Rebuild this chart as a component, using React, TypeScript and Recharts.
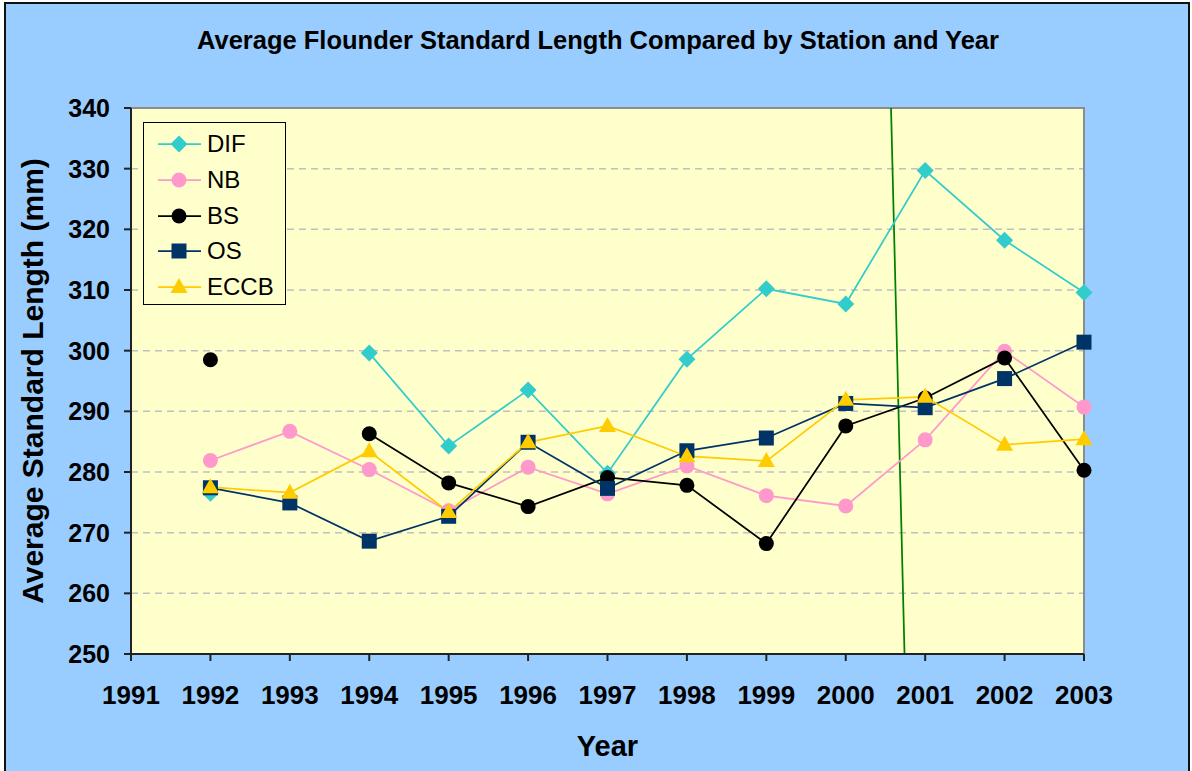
import React from 'react';
import {
  LineChart,
  Line,
  XAxis,
  YAxis,
  CartesianGrid,
  Legend,
  ReferenceLine,
  ReferenceArea,
  Label
} from 'recharts';

const years = [1992, 1993, 1994, 1995, 1996, 1997, 1998, 1999, 2000, 2001, 2002, 2003];
const difValues = [276.5, null, 299.6, 284.3, 293.5, 279.8, 298.6, 310.2, 307.7, 329.7, 318.2, 309.6];
const nbValues = [281.9, 286.7, 280.4, 273.6, 280.8, 276.4, 281.0, 276.1, 274.4, 285.3, 299.9, 290.7];
const bsValues = [298.5, null, 286.3, 278.2, 274.3, 279.1, 277.8, 268.2, 287.6, 292.2, 298.8, 280.3];
const osValues = [277.4, 274.9, 268.6, 272.7, 284.9, 277.3, 283.5, 285.6, 291.3, 290.6, 295.4, 301.4];
const eccbValues = [277.5, 276.6, 283.4, 273.4, 284.9, 287.6, 282.6, 281.8, 291.9, 292.4, 284.5, 285.4];

const xTicks = [1991, 1992, 1993, 1994, 1995, 1996, 1997, 1998, 1999, 2000, 2001, 2002, 2003];
const yTicks = [250, 260, 270, 280, 290, 300, 310, 320, 330, 340];

// hand-drawn green divider in the original, kept in data units
const dividerLine = [
  { x: 2000.57, y: 340 },
  { x: 2000.74, y: 250 }
];

type Shape = 'diamond' | 'circle' | 'square' | 'triangle';

const seriesList: { key: string; name: string; color: string; shape: Shape; values: (number | null)[] }[] = [
  { key: 'dif', name: 'DIF', color: '#33CCCC', shape: 'diamond', values: difValues },
  { key: 'nb', name: 'NB', color: '#FF99CC', shape: 'circle', values: nbValues },
  { key: 'bs', name: 'BS', color: '#000000', shape: 'circle', values: bsValues },
  { key: 'os', name: 'OS', color: '#003366', shape: 'square', values: osValues },
  { key: 'eccb', name: 'ECCB', color: '#FFCC00', shape: 'triangle', values: eccbValues }
];

const data = years.map((year, i) => {
  const row: Record<string, number | null> = { year };
  seriesList.forEach(s => {
    row[s.key] = s.values[i];
  });
  return row;
});

const FONT = 'Arial, "Liberation Sans", Helvetica, sans-serif';

const Marker = ({ cx, cy, shape, color }: { cx: number; cy: number; shape: Shape; color: string }) => {
  switch (shape) {
    case 'diamond':
      return <polygon points={`${cx},${cy - 8.5} ${cx + 8.5},${cy} ${cx},${cy + 8.5} ${cx - 8.5},${cy}`} fill={color} />;
    case 'circle':
      return <circle cx={cx} cy={cy} r={7.5} fill={color} />;
    case 'square':
      return <rect x={cx - 7.5} y={cy - 7.5} width={15} height={15} fill={color} />;
    case 'triangle':
      return <polygon points={`${cx},${cy - 9} ${cx + 8.5},${cy + 6} ${cx - 8.5},${cy + 6}`} fill={color} />;
    default:
      return null;
  }
};

const makeDot = (shape: Shape, color: string) => (props: any) => {
  const { cx, cy, index } = props;
  if (cx == null || cy == null || props.value == null) return <g key={`e-${index}`} />;
  return (
    <g key={`d-${index}`}>
      <Marker cx={cx} cy={cy} shape={shape} color={color} />
    </g>
  );
};

const LegendBox = () => (
  <div
    style={{
      width: 141,
      height: 181,
      border: '1px solid #000',
      background: '#FFFFCC',
      fontFamily: FONT,
      fontSize: 24,
      position: 'relative'
    }}
  >
    {seriesList.map((s, i) => (
      <div key={s.key} style={{ position: 'absolute', left: 0, top: 21 + i * 35.8 - 18, height: 36, width: 141 }}>
        <svg width={60} height={36} style={{ position: 'absolute', left: 0, top: 0 }}>
          <line x1={14} x2={57} y1={18} y2={18} stroke={s.color} strokeWidth={1.75} />
          <Marker cx={35} cy={18} shape={s.shape} color={s.color} />
        </svg>
        <span style={{ position: 'absolute', left: 63, top: 4, lineHeight: '28px' }}>{s.name}</span>
      </div>
    ))}
  </div>
);

const App: React.FC = () => {
  return (
    <div style={{ position: 'absolute', left: 0, top: 0, width: 1192, height: 771, overflow: 'hidden', background: '#fff' }}>
      <div
        style={{
          position: 'absolute',
          left: 4,
          top: 2,
          width: 1182,
          height: 800,
          border: '2px solid #111',
          background: '#99CCFF'
        }}
      />
      <div
        style={{
          position: 'absolute',
          left: 0,
          top: 28,
          width: 1196,
          textAlign: 'center',
          fontFamily: FONT,
          fontWeight: 'bold',
          fontSize: 25.5,
          lineHeight: '25px',
          color: '#000'
        }}
      >
        Average Flounder Standard Length Compared by Station and Year
      </div>
      <div style={{ position: 'absolute', left: 0, top: 0 }}>
        <LineChart
          width={1192}
          height={771}
          data={data}
          margin={{ top: 108, right: 108, bottom: 17, left: 21 }}
          style={{ fontFamily: FONT }}
        >
          <CartesianGrid
            vertical={false}
            stroke="#C0C0C0"
            strokeDasharray="7 5"
            strokeWidth={1.5}
            fill="#FFFFCC"
            fillOpacity={1}
          />
          <ReferenceArea x1={1991} x2={2003} y1={250} y2={340} fill="none" fillOpacity={0} stroke="#8C8C8C" strokeWidth={2} />
          <XAxis
            dataKey="year"
            type="number"
            domain={[1991, 2003]}
            ticks={xTicks}
            interval={0}
            height={100}
            tickSize={7}
            tickMargin={25}
            stroke="#222"
            strokeWidth={2}
            tick={{ fill: '#000', fontSize: 26, fontWeight: 'bold' }}
            allowDecimals={false}
          >
            <Label
              content={({ viewBox }: any) => (
                <text
                  x={viewBox.x + viewBox.width / 2}
                  y={756}
                  textAnchor="middle"
                  fontFamily={FONT}
                  fontWeight="bold"
                  fontSize={29}
                  fill="#000"
                >
                  Year
                </text>
              )}
            />
          </XAxis>
          <YAxis
            type="number"
            domain={[250, 340]}
            ticks={yTicks}
            interval={0}
            width={110}
            tickSize={7}
            tickMargin={14}
            stroke="#222"
            strokeWidth={2}
            tick={{ fill: '#000', fontSize: 25, fontWeight: 'bold' }}
          >
            <Label
              content={({ viewBox }: any) => {
                const cx = 43;
                const cy = viewBox.y + viewBox.height / 2;
                return (
                  <text
                    x={cx}
                    y={cy}
                    transform={`rotate(-90, ${cx}, ${cy})`}
                    textAnchor="middle"
                    fontFamily={FONT}
                    fontWeight="bold"
                    fontSize={30}
                    fill="#000"
                  >
                    Average Standard Length (mm)
                  </text>
                );
              }}
            />
          </YAxis>
          <ReferenceLine
            segment={dividerLine}
            stroke="#008000"
            strokeWidth={1.75}
            ifOverflow="visible"
          />
          {seriesList.map(s => (
            <Line
              key={s.key}
              type="linear"
              dataKey={s.key}
              name={s.name}
              stroke={s.color}
              strokeWidth={1.75}
              dot={makeDot(s.shape, s.color)}
              activeDot={false}
              isAnimationActive={false}
            />
          ))}
          <Legend
            layout="vertical"
            align="center"
            verticalAlign="middle"
            content={() => <LegendBox />}
            wrapperStyle={{ position: 'absolute', left: 143, top: 122, width: 143, height: 183, bottom: 'auto', right: 'auto' }}
          />
        </LineChart>
      </div>
    </div>
  );
};

export default App;
